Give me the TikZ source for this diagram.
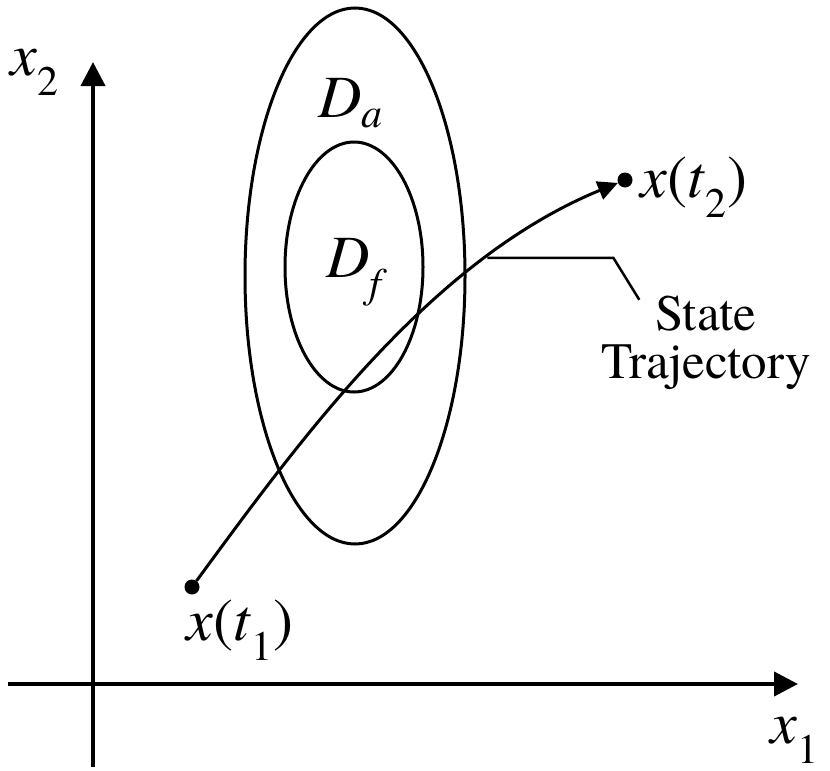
\documentclass[tikz,border=0pt]{standalone}
\usepackage{fontspec}
\setmainfont{texgyretermes}[Extension=.otf, UprightFont=*-regular, ItalicFont=*-italic, BoldFont=*-bold, BoldItalicFont=*-bolditalic]
\usetikzlibrary{arrows.meta}

\newcommand{\vr}[1]{\textit{#1}}
\newcommand{\sub}[1]{\textsubscript{#1}}

\tikzset{
	axis/.style={line width=4pt,-{Triangle[length=24pt,width=24pt]}},
	region/.style={line width=3pt},
	traj/.style={line width=3pt,-{Triangle[length=20pt,width=19pt]}},
	statedot/.style={circle,fill,inner sep=0pt,minimum size=15pt},
	lbl/.style={inner sep=0pt,font=\fontsize{60}{62}\selectfont},
	txt/.style={inner sep=0pt,font=\fontsize{51}{48}\selectfont,align=center},
}

\begin{document}
\begin{tikzpicture}[x=1pt,y=-1pt]
			\useasboundingbox (0,0) rectangle (830,771);
			% axes
			\coordinate (xa) at (8,684);
			\coordinate (xb) at (798,684);
			\coordinate (ya) at (93,767);
			\coordinate (yb) at (93,62);
			\draw[axis] (xa) -- (xb);
			\draw[axis] (ya) -- (yb);
			\node[lbl] (xone) at (795,740) {\vr{x}\sub{1}};
			\node[lbl] (xtwo) at (35,72) {\vr{x}\sub{2}};
			% regions
			\draw[region] (355,276) ellipse [x radius=110,y radius=268];
			\draw[region] (354,267) ellipse [x radius=69,y radius=125];
			\node[lbl] (Da) at (351,103) {\vr{D}\sub{\vr{a}}};
			\node[lbl] (Df) at (357,272) {\vr{D}\sub{\vr{f}}};
			% trajectory
			\node[statedot] (start) at (192,587) {};
			\node[statedot] (stop) at (625,180) {};
			\draw[traj] (start) .. controls (300,440) and (430,260) .. coordinate[pos=0.75] (lead) (stop);
			\node[lbl] (tone) at (240,630) {\vr{x}(\vr{t}\sub{1})};
			\node[lbl] (ttwo) at (694,187) {\vr{x}(\vr{t}\sub{2})};
			\draw[line width=2.5pt] (lead) -- ++(126,0) coordinate (bend) -- ++(26,42) coordinate (tip);
			\node[txt] (name) at (706,343) {State\\Trajectory};
		\end{tikzpicture}
\end{document}
